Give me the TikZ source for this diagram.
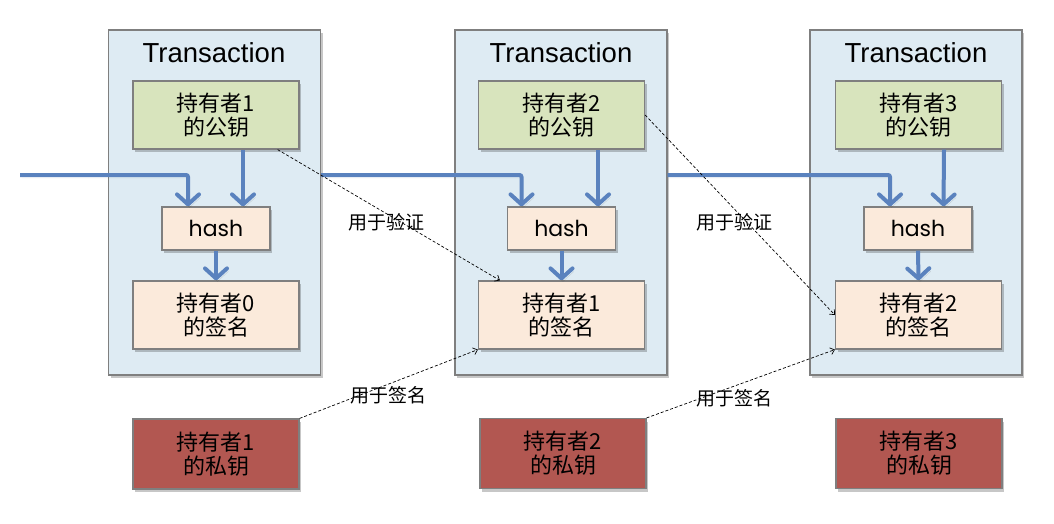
\documentclass[tikz,border=0pt]{standalone}
\usepackage{fontspec}
\newfontfamily\cjk{Noto Sans CJK SC}
\newfontfamily\titlefont{Liberation Sans}
\newfontfamily\hashfont{Poppins}
\usetikzlibrary{arrows.meta,shadows}
\definecolor{txfill}{HTML}{DEEBF3}
\definecolor{boxborder}{HTML}{7F7F7F}
\definecolor{greenfill}{HTML}{D8E4BD}
\definecolor{peachfill}{HTML}{FBEADB}
\definecolor{redfill}{HTML}{B25751}
\definecolor{flowblue}{HTML}{5A82BE}
\begin{document}
\begin{tikzpicture}[x=1pt,y=-1pt,
  shadowed/.style={drop shadow={shadow xshift=2pt,shadow yshift=-3pt,opacity=0.22,fill=black}},
  box/.style={draw=boxborder,line width=1.2pt,rectangle,inner sep=0pt,shadowed,align=center},
  txbox/.style={box,fill=txfill,minimum width=212pt,minimum height=345pt},
  keybox/.style={box,fill=greenfill,minimum width=166pt,minimum height=68pt,font=\cjk\fontsize{22}{24}\selectfont},
  sigbox/.style={box,fill=peachfill,minimum width=166pt,minimum height=68pt,font=\cjk\fontsize{22}{24}\selectfont},
  privbox/.style={box,fill=redfill,minimum width=166pt,minimum height=70pt,font=\cjk\fontsize{22}{24}\selectfont},
  hashbox/.style={box,fill=peachfill,minimum width=108pt,minimum height=43pt,font=\hashfont\fontsize{22}{24}\selectfont},
  txtitle/.style={inner sep=0pt,font=\titlefont\fontsize{27.5}{30}\selectfont},
  lbl/.style={inner sep=0pt,font=\cjk\fontsize{19}{21}\selectfont},
  flow/.style={draw=flowblue,line width=4pt,rounded corners=2pt,
    -{Straight Barb[length=10pt,width=22pt,round]},
    preaction={draw=black,opacity=0.12,transform canvas={shift={(1.5pt,-3pt)}}}},
  use/.style={draw=black,line width=0.7pt,dash pattern=on 3pt off 2pt,
    -{Straight Barb[length=4pt,width=7pt]}}
]
\useasboundingbox (0,0) rectangle (1054,524);

% transaction boxes
\node[txbox] (t1) at (214.5,202.5) {};
\node[txbox] (t2) at (561,202.5) {};
\node[txbox] (t3) at (916,202.5) {};

\node[txtitle] (title1) at (214,53) {Transaction};
\node[txtitle] (title2) at (561,53) {Transaction};
\node[txtitle] (title3) at (916,53) {Transaction};

% public keys
\node[keybox] (g1) at (216,115) {持有者1\\的公钥};
\node[keybox] (g2) at (561.5,115) {持有者2\\的公钥};
\node[keybox] (g3) at (918.5,115) {持有者3\\的公钥};

% hash
\node[hashbox] (h1) at (216,228.5) {hash};
\node[hashbox] (h2) at (561.5,228.5) {hash};
\node[hashbox] (h3) at (918,228.5) {hash};

% signatures
\node[sigbox] (s1) at (216,315) {持有者0\\的签名};
\node[sigbox] (s2) at (561.5,315) {持有者1\\的签名};
\node[sigbox] (s3) at (918.5,315) {持有者2\\的签名};

% private keys
\node[privbox] (p1) at (216,454) {持有者1\\的私钥};
\node[privbox] (p2) at (563,453.5) {持有者2\\的私钥};
\node[privbox] (p3) at (919,453.5) {持有者3\\的私钥};

% blue flow
\coordinate (in0) at (20,175);
\draw[flow] (in0) -| ([xshift=-28pt]h1.north);
\draw[flow] (t1.east |- in0) -| ([xshift=-40pt]h2.north);
\draw[flow] (t2.east |- in0) -| ([xshift=-28pt]h3.north);

\draw[flow] ([xshift=27pt]g1.south) -- ([xshift=27pt]h1.north);
\draw[flow] ([xshift=36.5pt]g2.south) -- ([xshift=36.5pt]h2.north);
\draw[flow] ([xshift=25.5pt]g3.south) -- ([xshift=25.5pt]h3.north);

\draw[flow] (h1.south) -- (s1.north);
\draw[flow] (h2.south) -- (s2.north);
\draw[flow] (h3.south) -- (s3.north);

% dashed usage arrows
\draw[use] ([xshift=-22pt]g1.south east) -- ([xshift=22pt]s2.north west);
\draw[use] (g2.east) -- (s3.west);
\draw[use] (p1.north east) -- (s2.south west);
\draw[use] (p2.north east) -- (s3.south west);

\node[lbl] (v1) at (386,222) {用于验证};
\node[lbl] (v2) at (734,222) {用于验证};
\node[lbl] (u1) at (388,395) {用于签名};
\node[lbl] (u2) at (734,398) {用于签名};
\end{tikzpicture}
\end{document}
